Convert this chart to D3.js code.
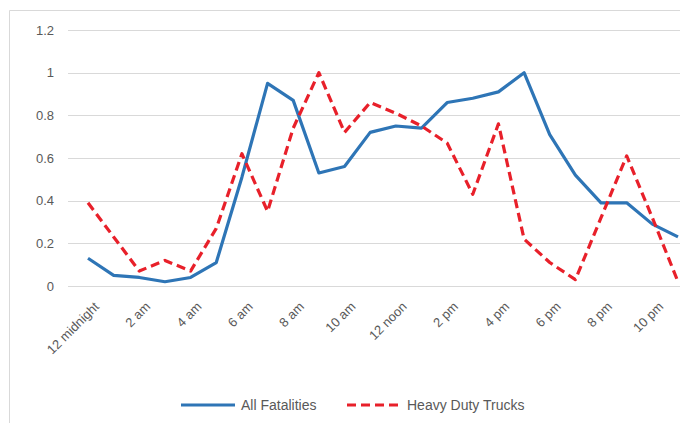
<!DOCTYPE html>
<html lang="en">
<head>
    <meta charset="UTF-8">
    <title>Fatalities by Time of Day</title>
    <script src="https://cdnjs.cloudflare.com/ajax/libs/d3/7.8.5/d3.min.js"></script>
    <style>
        body {
            margin: 0;
            background: #fff;
            font-family: "Liberation Sans", Arial, sans-serif;
        }
        .grid line {
            stroke: #d9d9d9;
            stroke-width: 1;
            shape-rendering: crispEdges;
        }
        .grid path {
            stroke-width: 0;
        }
        .axis text {
            fill: #595959;
            font-size: 13px;
        }
        .axis path, .axis line {
            stroke: none;
        }
        .legend text {
            fill: #595959;
            font-size: 14px;
        }
    </style>
</head>
<body>
    <div id="chart"></div>

    <script>
        // Hour of day categories (every other one is labelled)
        const hours = ["12 midnight", "1 am", "2 am", "3 am", "4 am", "5 am", "6 am", "7 am",
            "8 am", "9 am", "10 am", "11 am", "12 noon", "1 pm", "2 pm", "3 pm",
            "4 pm", "5 pm", "6 pm", "7 pm", "8 pm", "9 pm", "10 pm", "11 pm"];
        const tickLabels = ["12 midnight", "2 am", "4 am", "6 am", "8 am", "10 am",
            "12 noon", "2 pm", "4 pm", "6 pm", "8 pm", "10 pm"];
        const yTicks = [0, 0.2, 0.4, 0.6, 0.8, 1, 1.2];

        // Normalised values
        const allFatalities = [0.13, 0.05, 0.04, 0.02, 0.04, 0.11, 0.51, 0.95,
            0.87, 0.53, 0.56, 0.72, 0.75, 0.74, 0.86, 0.88,
            0.91, 1.0, 0.71, 0.52, 0.39, 0.39, 0.29, 0.23];
        const heavyTrucks = [0.39, 0.23, 0.07, 0.12, 0.07, 0.27, 0.62, 0.35,
            0.74, 1.0, 0.72, 0.86, 0.81, 0.75, 0.67, 0.43,
            0.76, 0.22, 0.11, 0.03, 0.32, 0.61, 0.32, 0.02];

        const seriesNames = ["All Fatalities", "Heavy Duty Trucks"];

        const W = 680, H = 423;
        const margin = {top: 30, right: 2, bottom: 137, left: 88};
        const width = W - margin.left - margin.right;
        const height = H - margin.top - margin.bottom;

        const svg = d3.select("#chart")
            .append("svg")
            .attr("width", W)
            .attr("height", H);

        // chart border (only left/top visible, rest is cropped)
        svg.append("path")
            .attr("d", `M9.5,${H}V10.5H${W}`)
            .attr("fill", "none")
            .attr("stroke", "#d9d9d9");

        const g = svg.append("g")
            .attr("transform", `translate(${margin.left},${margin.top})`);

        const x = d3.scalePoint()
            .domain(hours)
            .range([0, width]);

        const y = d3.scaleLinear()
            .domain([0, 1.2])
            .range([height, 0]);

        // horizontal grid lines
        g.append("g")
            .attr("class", "grid")
            .attr("transform", "translate(-20,0)")
            .call(d3.axisLeft(y)
                .tickValues(yTicks)
                .tickSize(-(width + 40))
                .tickFormat(""));

        // Y axis labels
        g.append("g")
            .attr("class", "axis")
            .attr("transform", "translate(-31,0)")
            .call(d3.axisLeft(y)
                .tickValues(yTicks)
                .tickSize(0)
                .tickFormat(d => String(+d.toFixed(1))));

        // X axis labels, rotated
        g.append("g")
            .attr("class", "axis")
            .attr("transform", `translate(0,${height + 12})`)
            .call(d3.axisBottom(x)
                .tickValues(tickLabels)
                .tickSize(0))
            .selectAll("text")
            .style("text-anchor", "end")
            .attr("dx", "0.1em")
            .attr("dy", "0.9em")
            .attr("transform", "rotate(-45)");

        const line = d3.line()
            .x((d, i) => x(hours[i]))
            .y(d => y(d));

        g.append("path")
            .datum(allFatalities)
            .attr("fill", "none")
            .attr("stroke", "#2e75b6")
            .attr("stroke-width", 3.2)
            .attr("stroke-linejoin", "round")
            .attr("d", line);

        g.append("path")
            .datum(heavyTrucks)
            .attr("fill", "none")
            .attr("stroke", "#e8202a")
            .attr("stroke-width", 3.2)
            .attr("stroke-dasharray", "9,5")
            .attr("stroke-linejoin", "round")
            .attr("d", line);

        // Legend
        const legend = svg.append("g")
            .attr("class", "legend")
            .attr("transform", "translate(0,405)");

        const legendItems = [
            {name: seriesNames[0], color: "#2e75b6", dash: null, x: 181},
            {name: seriesNames[1], color: "#e8202a", dash: "9,5", x: 347}
        ];

        legendItems.forEach(item => {
            legend.append("line")
                .attr("x1", item.x)
                .attr("x2", item.x + 54)
                .attr("y1", 0)
                .attr("y2", 0)
                .attr("stroke", item.color)
                .attr("stroke-width", 3.2)
                .attr("stroke-dasharray", item.dash);
            legend.append("text")
                .attr("x", item.x + 60)
                .attr("y", 0)
                .attr("dy", "0.35em")
                .text(item.name);
        });
    </script>
</body>
</html>
